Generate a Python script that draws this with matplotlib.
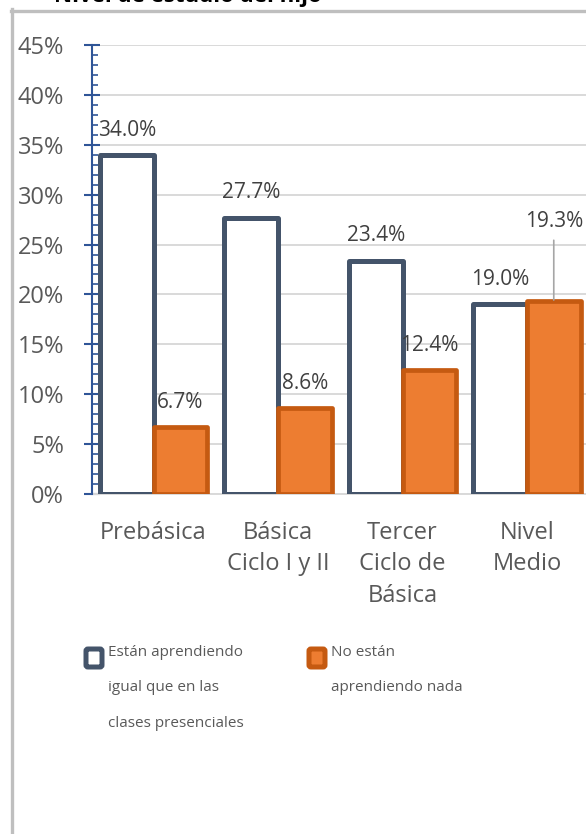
import matplotlib
matplotlib.use("Agg")
import matplotlib.pyplot as plt
from matplotlib.ticker import MultipleLocator, FuncFormatter
from matplotlib.patches import FancyBboxPatch
from matplotlib.lines import Line2D
import numpy as np

plt.rcParams['font.family'] = ['Open Sans', 'DejaVu Sans']

categories = ["Prebásica", "Básica\nCiclo I y II", "Tercer\nCiclo de\nBásica", "Nivel\nMedio"]
series_names = ["Están aprendiendo\nigual que en las\nclases presenciales",
                "No están\naprendiendo nada"]
igual = [34.0, 27.7, 23.4, 19.0]
nada = [6.7, 8.6, 12.4, 19.3]
title_text = "Nivel de estudio del hijo"

W, H = 586, 834
fig = plt.figure(figsize=(W / 100, H / 100), dpi=100)

# Plot axes
left, right, top, bottom = 92, 589, 45, 494
ax = fig.add_axes([left / W, (H - bottom) / H, (right - left) / W, (bottom - top) / H])

x = np.arange(len(categories))
w = 0.43
dark = "#44546A"
orange = "#ED7D31"
orange_edge = "#C55A11"
text_col = "#595959"
lab_col = "#404040"

ax.bar(x - w / 2, igual, w, color="white", edgecolor=dark, linewidth=3.6,
       joinstyle="round", zorder=3)
ax.bar(x + w / 2, nada, w, color=orange, edgecolor=orange_edge, linewidth=3.4,
       joinstyle="round", zorder=3)

ax.set_xlim(-0.494, 3.498)
ax.set_ylim(0, 45)
ax.yaxis.set_major_locator(MultipleLocator(5))
ax.yaxis.set_minor_locator(MultipleLocator(1))
ax.yaxis.set_major_formatter(FuncFormatter(lambda v, p: f"{v:.0f}%"))
ax.grid(axis="y", which="major", color="#D9D9D9", linewidth=1.4, zorder=0)
ax.set_axisbelow(True)

for s in ["top", "right"]:
    ax.spines[s].set_visible(False)
ax.spines["left"].set_color("#2F5597")
ax.spines["left"].set_linewidth(1.5)
ax.spines["left"].set_zorder(5)
ax.spines["bottom"].set_color("#D9D9D9")
ax.spines["bottom"].set_linewidth(1.4)

ax.tick_params(axis="y", which="major", direction="inout", length=11.5, width=1.5,
               color="#2F5597", labelsize=17, labelcolor=text_col, pad=14.4)
ax.tick_params(axis="y", which="minor", direction="in", length=4.3, width=1.2,
               color="#2F5597")
ax.set_xticks(x)
ax.set_xticklabels(categories, fontsize=17, color=text_col, linespacing=1.41,
                   va="top")
ax.tick_params(axis="x", length=0, pad=19.5)

# Data labels
for i, v in enumerate(igual):
    ax.annotate(f"{v:.1f}%", (x[i] - w / 2, v), xytext=(0, 17.8), textcoords="offset points",
                ha="center", va="center", fontsize=15, color=lab_col, zorder=6)
for i, v in enumerate(nada):
    if i == len(nada) - 1:
        ax.annotate(f"{v:.1f}%", (x[i] + w / 2, v), xytext=(0, 57.6), textcoords="offset points",
                    ha="center", va="center", fontsize=15, color=lab_col, zorder=6,
                    arrowprops=dict(arrowstyle="-", color="#A6A6A6", lw=1.2,
                                    shrinkA=4, shrinkB=1))
    else:
        ax.annotate(f"{v:.1f}%", (x[i] + w / 2, v), xytext=(0, 17.8), textcoords="offset points",
                    ha="center", va="center", fontsize=15, color=lab_col, zorder=6)

# Overlay for border and title
ov = fig.add_axes([0, 0, 1, 1], zorder=-1)
ov.set_xlim(0, W)
ov.set_ylim(H, 0)
ov.axis("off")
ov.patch.set_alpha(0)

border = "#BFBFBF"
ov.add_line(Line2D([11.5, 11.5], [9, H], color=border, linewidth=2.4))
ov.add_line(Line2D([10.5, W], [10.5, 10.5], color=border, linewidth=2.4))

fig.text(322 / W, 1 - 2 / H, title_text, ha="right", va="baseline", fontsize=16,
         fontweight="bold", color="black")

# Legend
ov2 = fig.add_axes([0, 0, 1, 1], zorder=10)
ov2.set_xlim(0, W)
ov2.set_ylim(H, 0)
ov2.axis("off")
ov2.patch.set_alpha(0)

leg_items = [(86, 108, "white", dark, series_names[0]),
             (309, 331, orange, orange_edge, series_names[1])]
for mx, tx, fc, ec, label in leg_items:
    ov2.add_patch(FancyBboxPatch((mx, 649), 16, 18, boxstyle="round,pad=0,rounding_size=2",
                                 facecolor=fc, edgecolor=ec, linewidth=3.6))
    ov2.text(tx, 645, label, ha="left", va="top", fontsize=11, color=text_col,
             linespacing=2.85)

fig.savefig("out.png", dpi=100)
